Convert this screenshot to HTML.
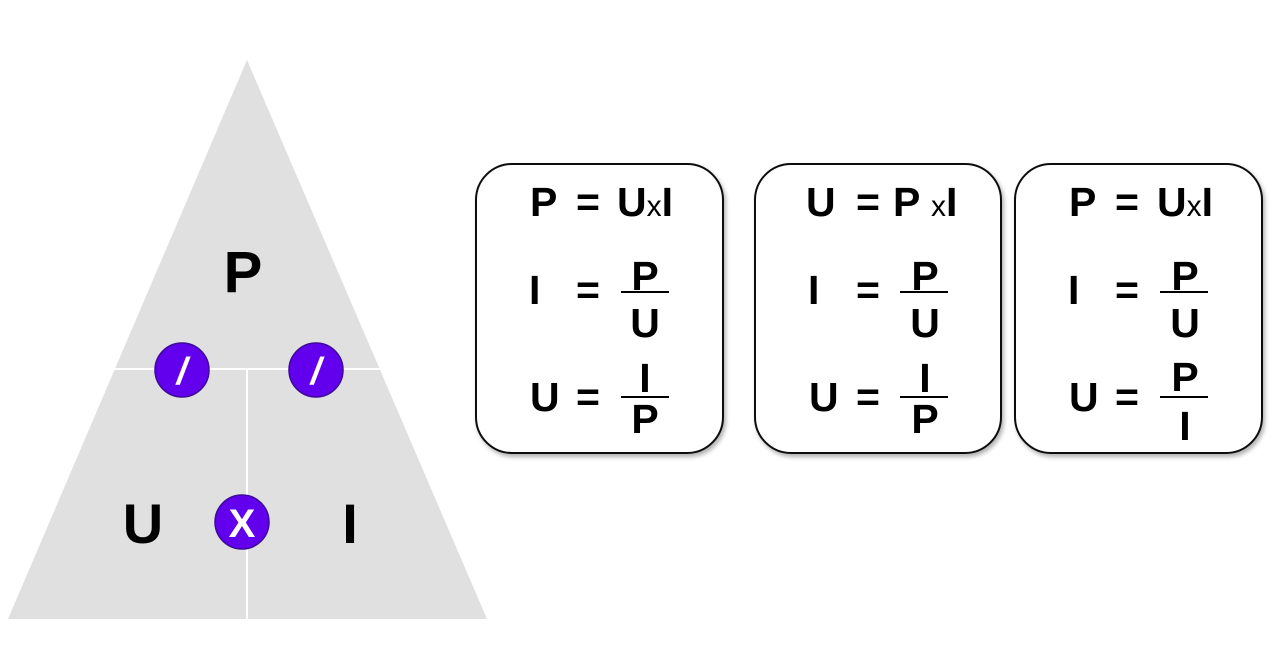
<!DOCTYPE html>
<html><head><style>html,body{margin:0;padding:0;background:#fff}svg{display:block}</style></head>
<body>
<svg width="1283" height="662" viewBox="0 0 1283 662" xmlns="http://www.w3.org/2000/svg" font-family="Liberation Sans, Arial, sans-serif" font-weight="bold">
<defs>
<filter id="sh" x="-10%" y="-10%" width="130%" height="130%"><feDropShadow dx="2" dy="3" stdDeviation="2" flood-color="#000" flood-opacity="0.3"/></filter>
</defs>
<polygon points="247,60 8,619 487,619" fill="#e0e0e0"/>
<line x1="112" y1="369" x2="382" y2="369" stroke="#fff" stroke-width="2"/>
<line x1="247" y1="369" x2="247" y2="619" stroke="#fff" stroke-width="2"/>
<text x="243" y="292" font-size="58" text-anchor="middle">P</text>
<text x="143" y="543" font-size="56" text-anchor="middle">U</text>
<text x="350" y="543" font-size="56" text-anchor="middle">I</text>
<g fill="#6200ee" stroke="#3d0a99" stroke-width="1.5">
<circle cx="182" cy="370" r="27"/><circle cx="316" cy="370" r="27"/><circle cx="242" cy="522" r="27"/>
</g>
<g fill="#fff" text-anchor="middle">
<text x="182" y="384" font-size="38" font-style="italic">/</text>
<text x="316" y="384" font-size="38" font-style="italic">/</text>
<text x="242" y="537" font-size="40">X</text>
</g>

<rect x="476" y="164" width="247" height="289" rx="36" fill="#fff" stroke="#111" stroke-width="2" filter="url(#sh)"/>
<rect x="755" y="164" width="246" height="289" rx="36" fill="#fff" stroke="#111" stroke-width="2" filter="url(#sh)"/>
<rect x="1015" y="164" width="247" height="289" rx="36" fill="#fff" stroke="#111" stroke-width="2" filter="url(#sh)"/>

<g font-size="41">
<!-- box1 -->
<text x="530" y="216">P</text><text x="576" y="216">=</text>
<text x="617" y="216">U<tspan font-size="30" font-weight="normal">x</tspan>I</text>
<text x="529" y="304">I</text><text x="576" y="304">=</text>
<text x="645" y="290" text-anchor="middle">P</text><line x1="621" y1="292" x2="669" y2="292" stroke="#000" stroke-width="2"/><text x="645" y="337" text-anchor="middle">U</text>
<text x="530" y="411">U</text><text x="576" y="411">=</text>
<text x="645" y="392" text-anchor="middle">I</text><line x1="621" y1="397" x2="669" y2="397" stroke="#000" stroke-width="2"/><text x="645" y="433" text-anchor="middle">P</text>
<!-- box2 -->
<text x="806" y="216">U</text><text x="856" y="216">=</text>
<text x="893" y="216">P <tspan font-size="30" font-weight="normal">x</tspan>I</text>
<text x="808" y="304">I</text><text x="856" y="304">=</text>
<text x="925" y="290" text-anchor="middle">P</text><line x1="900" y1="292" x2="948" y2="292" stroke="#000" stroke-width="2"/><text x="925" y="337" text-anchor="middle">U</text>
<text x="809" y="411">U</text><text x="856" y="411">=</text>
<text x="925" y="392" text-anchor="middle">I</text><line x1="900" y1="397" x2="948" y2="397" stroke="#000" stroke-width="2"/><text x="925" y="433" text-anchor="middle">P</text>
<!-- box3 -->
<text x="1069" y="216">P</text><text x="1115" y="216">=</text>
<text x="1157" y="216">U<tspan font-size="30" font-weight="normal">x</tspan>I</text>
<text x="1068" y="304">I</text><text x="1115" y="304">=</text>
<text x="1185" y="290" text-anchor="middle">P</text><line x1="1160" y1="292" x2="1208" y2="292" stroke="#000" stroke-width="2"/><text x="1185" y="337" text-anchor="middle">U</text>
<text x="1069" y="411">U</text><text x="1115" y="411">=</text>
<text x="1185" y="391" text-anchor="middle">P</text><line x1="1160" y1="397" x2="1208" y2="397" stroke="#000" stroke-width="2"/><text x="1185" y="440" text-anchor="middle">I</text>
</g>
</svg>
</body></html>
